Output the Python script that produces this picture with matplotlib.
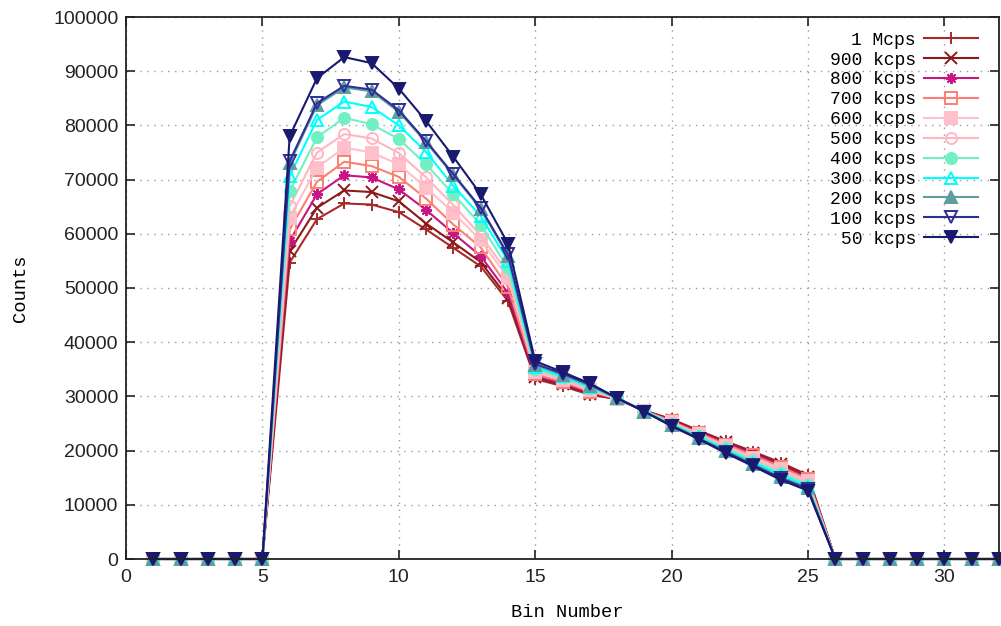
import matplotlib
matplotlib.use('Agg')
import matplotlib.pyplot as plt

# bin numbers 1..32
bins = list(range(1, 33))

labels = ['1 Mcps', '900 kcps', '800 kcps', '700 kcps', '600 kcps', '500 kcps',
          '400 kcps', '300 kcps', '200 kcps', '100 kcps', '50 kcps']

# counts for bins 6..25 (bins 1-5 and 26-32 are zero)
c_1m = [54700, 62700, 65600, 65400, 64000, 60800, 57400, 54000, 47600,
        33200, 31900, 30300, 29500, 27400, 25800, 23700, 21700, 19800, 17800, 15500]
c_900k = [56800, 64800, 68000, 67700, 66000, 61900, 58400, 54800, 48200,
          33500, 32200, 30500, 29500, 27400, 25700, 23500, 21500, 19600, 17500, 15200]
c_800k = [58700, 67300, 70800, 70400, 68200, 64400, 60100, 55900, 49100,
          33800, 32400, 30700, 29500, 27400, 25500, 23400, 21300, 19400, 17300, 14900]
c_700k = [60800, 69600, 73300, 72500, 70500, 66500, 61700, 57500, 50200,
          34100, 32700, 30900, 29600, 27300, 25400, 23200, 21100, 19100, 17000, 14700]
c_600k = [63000, 72200, 75900, 75000, 72800, 68500, 63900, 58800, 51900,
          34500, 33000, 31100, 29600, 27300, 25200, 23000, 20800, 18700, 16600, 14300]
c_500k = [65100, 75000, 78400, 77600, 74900, 70400, 65300, 59700, 52800,
          34800, 33200, 31300, 29600, 27300, 25100, 22900, 20600, 18400, 16300, 14000]
c_400k = [67900, 77800, 81400, 80200, 77500, 72800, 67300, 61700, 53700,
          35100, 33500, 31600, 29600, 27300, 25000, 22700, 20400, 18100, 15900, 13700]
c_300k = [70700, 81000, 84400, 83400, 80000, 75100, 68800, 63300, 55000,
          35400, 33700, 31800, 29700, 27300, 24800, 22500, 20100, 17800, 15500, 13400]
c_200k = [73000, 83700, 87000, 86300, 82500, 76900, 70800, 64600, 55900,
          35800, 34000, 32000, 29700, 27200, 24700, 22300, 19900, 17500, 15100, 13100]
c_100k = [73400, 84100, 87300, 86600, 82800, 77100, 71000, 64800, 56200,
          36000, 34200, 32200, 29700, 27200, 24600, 22200, 19700, 17300, 14900, 12900]
c_50k = [78000, 88700, 92600, 91500, 86800, 80800, 74200, 67300, 58200,
         36500, 34500, 32400, 29700, 27200, 24500, 22100, 19500, 17100, 14600, 12600]

zeros_before = [0, 0, 0, 0, 0]
zeros_after = [0, 0, 0, 0, 0, 0, 0]

series = [c_1m, c_900k, c_800k, c_700k, c_600k, c_500k,
          c_400k, c_300k, c_200k, c_100k, c_50k]

colors = ['#a52a2a', '#8b1a1a', '#c71585', '#fa8072', '#ffc0cb', '#ffb6c1',
          '#72f0c4', '#00ffff', '#5f9ea0', '#2e2e96', '#191970']
markers = ['+', 'x', (8, 2, 0), 's', 's', 'o', 'o', '^', '^', 'v', 'v']
filled = [True, True, True, False, True, False, True, False, True, False, True]


def plot():
    fig = plt.figure(figsize=(10.01, 6.26), dpi=100)
    ax = fig.add_axes([126 / 1001, 1 - 559 / 626, 873 / 1001, 542 / 626])

    for vals, lab, col, mk, fl in zip(series, labels, colors, markers, filled):
        y = zeros_before + vals + zeros_after
        ax.plot(bins, y, color=col, linewidth=1.5, marker=mk, markersize=8,
                markeredgewidth=1.4, markerfacecolor=col if fl else 'none',
                markeredgecolor=col, label=lab, clip_on=False)

    ax.set_xlim(0, 32)
    ax.set_ylim(0, 100000)
    ax.set_xticks(range(0, 31, 5))
    ax.set_yticks(range(0, 100001, 10000))

    ax.grid(True, color='#9a9a9a', linestyle=(0, (1, 4)), linewidth=1.0)
    ax.tick_params(direction='in', length=6.5, width=1.2, top=True, right=True,
                   colors='#222222', labelsize=14)
    ax.tick_params(axis='y', pad=5.5)
    ax.tick_params(axis='x', pad=7)
    for t in ax.get_xticklabels() + ax.get_yticklabels():
        t.set_family(['Liberation Sans', 'DejaVu Sans'])
        t.set_color('#222222')
    for s in ax.spines.values():
        s.set_linewidth(1.3)
        s.set_color('#222222')

    ax.set_xlabel('Bin Number', family='Liberation Mono', fontsize=13.5)
    ax.set_ylabel('Counts', family='Liberation Mono', fontsize=13.5)
    ax.xaxis.label.set_verticalalignment('center')
    ax.yaxis.label.set_verticalalignment('center')
    ax.xaxis.set_label_coords(0.505, -0.0996)
    ax.yaxis.set_label_coords(-0.1214, 0.5)

    ax.legend(loc='upper right', bbox_to_anchor=(0.976, 0.973), frameon=False,
              markerfirst=False, prop={'family': 'Liberation Mono', 'size': 13},
              labelspacing=0.16, handlelength=3.0, handletextpad=0.45,
              borderpad=0, borderaxespad=0)

    fig.savefig('out.png', dpi=100)


if __name__ == '__main__':
    plot()
